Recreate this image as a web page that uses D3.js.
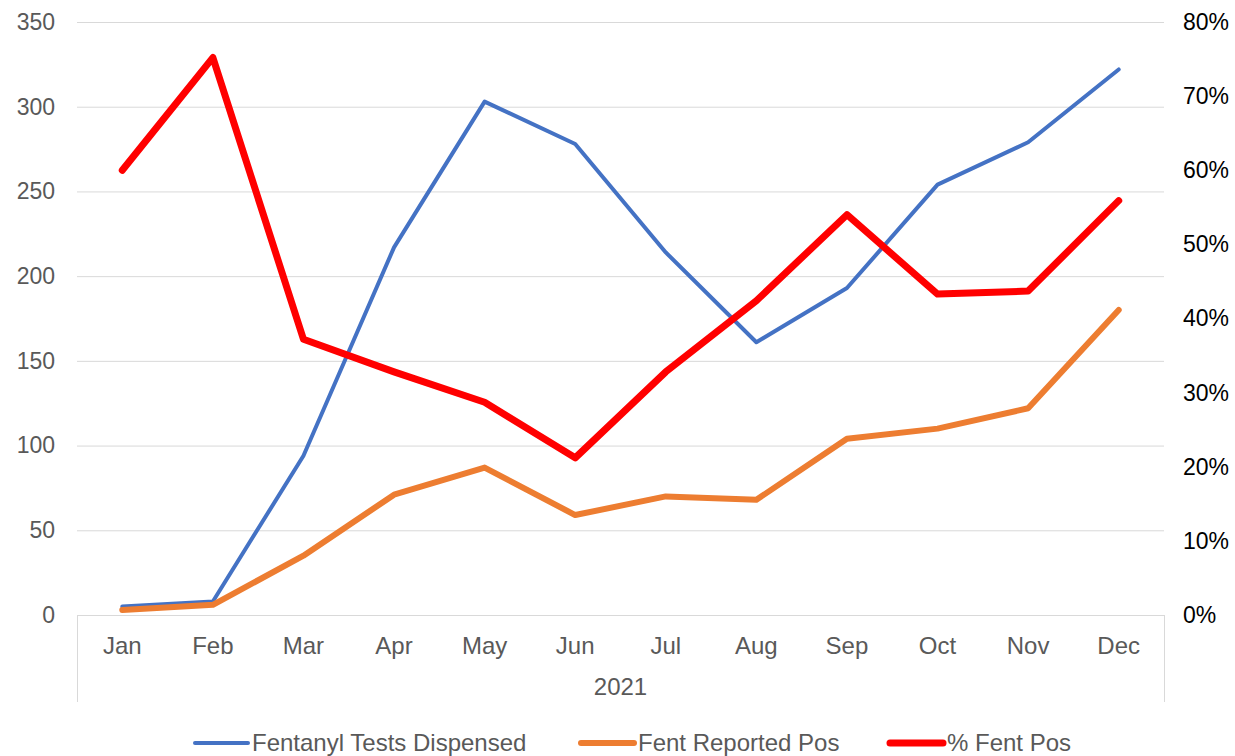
<!DOCTYPE html>
<html>
<head>
<meta charset="utf-8">
<script src="https://cdn.jsdelivr.net/npm/d3@7"></script>
<style>
  body { margin: 0; background: #fff; }
  svg { display: block; font-family: "Liberation Sans", Arial, sans-serif; }
</style>
</head>
<body>
<svg id="chart" width="1235" height="756"></svg>
<script>
const months = ['Jan', 'Feb', 'Mar', 'Apr', 'May', 'Jun', 'Jul', 'Aug', 'Sep', 'Oct', 'Nov', 'Dec'];
const testsDispensed = [5, 8, 94, 217, 303, 278, 214, 161, 193, 254, 279, 322];
const reportedPos = [3, 6, 35, 71, 87, 59, 70, 68, 104, 110, 122, 180];
const pctPos = [0.600, 0.752, 0.372, 0.328, 0.287, 0.212, 0.328, 0.424, 0.540, 0.433, 0.437, 0.559];
const leftTicks = [0, 50, 100, 150, 200, 250, 300, 350];
const rightTicks = [0, 0.1, 0.2, 0.3, 0.4, 0.5, 0.6, 0.7, 0.8];
const yearLabel = '2021';

const series = [
  { name: 'Fentanyl Tests Dispensed', values: testsDispensed, color: '#4472C4', width: 4, axis: 'left' },
  { name: 'Fent Reported Pos', values: reportedPos, color: '#ED7D31', width: 6, axis: 'left' },
  { name: '% Fent Pos', values: pctPos, color: '#FF0000', width: 7, axis: 'right' }
];

const margin = { top: 22, right: 71, bottom: 141, left: 77 };
const width = 1235, height = 756;
const chartW = width - margin.left - margin.right;
const chartH = height - margin.top - margin.bottom;
const font = '"Liberation Sans", Arial, sans-serif';

const svg = d3.select('#chart');
const g = svg.append('g').attr('transform', `translate(${margin.left},${margin.top})`);

const x = d3.scaleBand().domain(months).range([0, chartW]);
const yL = d3.scaleLinear().domain([0, 350]).range([chartH, 0]);
const yR = d3.scaleLinear().domain([0, 0.8]).range([chartH, 0]);

// gridlines
g.append('g')
  .selectAll('line')
  .data(leftTicks.filter(d => d > 0))
  .join('line')
  .attr('x1', 0).attr('x2', chartW)
  .attr('y1', d => yL(d) + 0.5).attr('y2', d => yL(d) + 0.5)
  .attr('stroke', '#D9D9D9').attr('stroke-width', 1);

// left axis
const axL = g.append('g')
  .call(d3.axisLeft(yL).tickValues(leftTicks).tickSize(0).tickPadding(22));
axL.select('.domain').remove();
axL.selectAll('text').attr('fill', '#595959').attr('font-size', 23).attr('font-family', font);

// right axis
const axR = g.append('g')
  .attr('transform', `translate(${chartW},0)`)
  .call(d3.axisRight(yR).tickValues(rightTicks).tickSize(0).tickPadding(19).tickFormat(d3.format('.0%')));
axR.select('.domain').remove();
axR.selectAll('text').attr('fill', '#000').attr('font-size', 23).attr('font-family', font);

// category axis with multi-level frame
const axX = g.append('g').attr('transform', `translate(0,${chartH})`);
axX.append('line')
  .attr('x1', 0).attr('x2', chartW).attr('y1', 0.5).attr('y2', 0.5)
  .attr('stroke', '#D9D9D9');
axX.selectAll('.edge')
  .data([0, chartW])
  .join('line')
  .attr('class', 'edge')
  .attr('x1', d => d + 0.5).attr('x2', d => d + 0.5)
  .attr('y1', 0).attr('y2', 87)
  .attr('stroke', '#D9D9D9');
axX.selectAll('.mlabel')
  .data(months)
  .join('text')
  .attr('class', 'mlabel')
  .attr('x', d => x(d) + x.bandwidth() / 2)
  .attr('y', 39)
  .attr('text-anchor', 'middle')
  .attr('fill', '#595959')
  .attr('font-size', 24)
  .text(d => d);
axX.append('text')
  .attr('x', chartW / 2)
  .attr('y', 80)
  .attr('text-anchor', 'middle')
  .attr('fill', '#595959')
  .attr('font-size', 24)
  .text(yearLabel);

// lines
series.forEach(s => {
  const y = s.axis === 'left' ? yL : yR;
  const line = d3.line()
    .x((d, i) => x(months[i]) + x.bandwidth() / 2)
    .y(d => y(d));
  g.append('path')
    .datum(s.values)
    .attr('d', line)
    .attr('fill', 'none')
    .attr('stroke', s.color)
    .attr('stroke-width', s.width)
    .attr('stroke-linejoin', 'round')
    .attr('stroke-linecap', 'round');
});

// legend
const legendX = [193, 579, 888];
const legend = svg.append('g').attr('transform', 'translate(0,743)');
series.forEach((s, i) => {
  const item = legend.append('g').attr('transform', `translate(${legendX[i]},0)`);
  item.append('line')
    .attr('x1', 2).attr('x2', 55).attr('y1', 0).attr('y2', 0)
    .attr('stroke', s.color).attr('stroke-width', s.width)
    .attr('stroke-linecap', 'round');
  item.append('text')
    .attr('x', 59).attr('y', 8)
    .attr('fill', '#595959')
    .attr('font-size', 24)
    .text(s.name);
});
</script>
</body>
</html>
